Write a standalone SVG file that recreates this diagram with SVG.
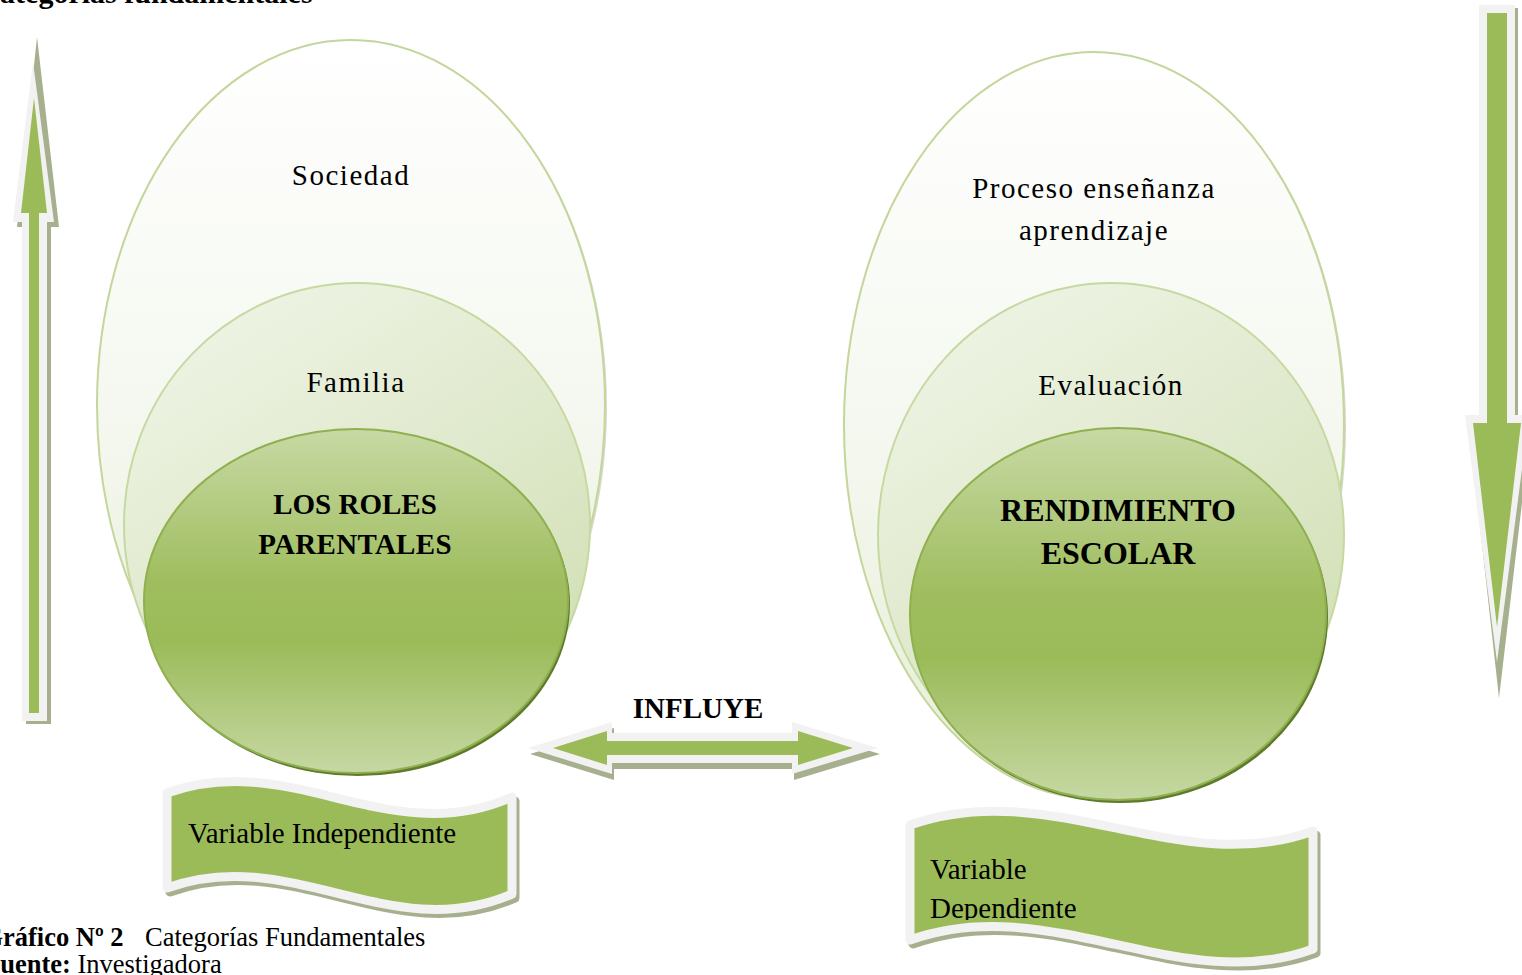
<svg xmlns="http://www.w3.org/2000/svg" width="1522" height="975" viewBox="0 0 1522 975">
<defs>
<style>
.t{font-family:"Liberation Serif","Times New Roman",serif;fill:#000}
.r{font-size:29px;letter-spacing:1.5px}
.b{font-size:29px;font-weight:bold}
.bb{font-size:32px;font-weight:bold}
.cap{font-size:26.5px}
.outersh{fill:#d6dacb}
.outer{fill:url(#gOuter);stroke:#c3d69b;stroke-width:2}
.mid{fill:url(#gMid);stroke:#c6d9a2;stroke-width:2}
.inner{fill:url(#gInner);stroke:#8fb04e;stroke-width:2}
.innersh{fill:#5f7a2c}
.sh{fill:#a7b08e}
.wh{fill:#f2f2f2}
.gr{fill:#9bbb59}
.ban{fill:#9bbb59;stroke:#f2f2f2;stroke-width:9;stroke-linejoin:round}
.bansh{fill:#a7b08e;stroke:#a7b08e;stroke-width:9;stroke-linejoin:round}
</style>
<linearGradient id="gOuter" x1="0" y1="0" x2="0" y2="1">
<stop offset="0" stop-color="#ffffff"/>
<stop offset="0.5" stop-color="#f5f8f0"/>
<stop offset="1" stop-color="#e6eed7"/>
</linearGradient>
<linearGradient id="gMid" x1="0.2" y1="0" x2="0.8" y2="1">
<stop offset="0" stop-color="#eff4e5"/>
<stop offset="0.5" stop-color="#dfe9cc"/>
<stop offset="1" stop-color="#cedeaf"/>
</linearGradient>
<linearGradient id="gInner" x1="0" y1="0" x2="0" y2="1">
<stop offset="0" stop-color="#c7d9a4"/>
<stop offset="0.45" stop-color="#9fbd5e"/>
<stop offset="0.62" stop-color="#9bbb59"/>
<stop offset="1" stop-color="#c6d8a3"/>
</linearGradient>
<clipPath id="clipDep"><rect x="900" y="830" width="420" height="90"/></clipPath>
</defs>
<rect width="1522" height="975" fill="#ffffff"/>

<g id="title">
<text class="t" x="-21.6" y="3" style="font-size:30px;font-weight:bold">Categorías fundamentales</text>
</g>

<g id="left-stack">
<ellipse class="outersh" cx="353" cy="407" rx="254" ry="365"/>
<ellipse class="outer" cx="351" cy="405" rx="254" ry="365"/>
<ellipse class="mid" cx="357" cy="525" rx="233" ry="242"/>
<ellipse class="innersh" cx="358" cy="604" rx="212" ry="172"/>
<ellipse class="inner" cx="356" cy="601" rx="212" ry="172"/>
<text class="t r" x="351" y="185" text-anchor="middle">Sociedad</text>
<text class="t r" x="356" y="392" text-anchor="middle">Familia</text>
<text class="t b" x="355" y="514" text-anchor="middle">LOS ROLES</text>
<text class="t b" x="355" y="554" text-anchor="middle" style="letter-spacing:0.3px">PARENTALES</text>
</g>

<g id="right-stack">
<ellipse class="outersh" cx="1096" cy="427" rx="250" ry="373"/>
<ellipse class="outer" cx="1094" cy="425" rx="250" ry="373"/>
<ellipse class="mid" cx="1111" cy="535" rx="233" ry="252"/>
<ellipse class="innersh" cx="1120" cy="617" rx="208" ry="186"/>
<ellipse class="inner" cx="1118" cy="614" rx="208" ry="186"/>
<text class="t r" x="1094" y="198" text-anchor="middle">Proceso enseñanza</text>
<text class="t r" x="1094" y="240" text-anchor="middle">aprendizaje</text>
<text class="t r" x="1111" y="395" text-anchor="middle">Evaluación</text>
<text class="t bb" x="1118" y="521" text-anchor="middle">RENDIMIENTO</text>
<text class="t bb" x="1118" y="564" text-anchor="middle">ESCOLAR</text>
</g>

<g id="connectors">
<g id="arrow-up">
<polygon class="sh" points="37,37 59,227 51,227 51,724 26,724 26,227 17,227"/>
<polygon class="wh" points="33,62 54,222 47,222 47,721 22,721 22,222 13,222"/>
<polygon class="gr" points="34,98 47,213 39,213 39,713 29,713 29,213 21,213"/>
</g>
<g id="arrow-down">
<polygon class="sh" points="1482,8 1518,8 1518,418 1532,418 1499,698 1468,418 1482,418"/>
<polygon class="wh" points="1479,5 1515,5 1515,415 1529,415 1497,662 1465,415 1479,415"/>
<polygon class="gr" points="1487,13 1507,13 1507,423 1521,423 1497,627 1473,423 1487,423"/>
</g>
<g id="arrow-both">
<polygon class="sh" points="530,754 614,728 614,739 794,739 794,728 880,754 794,780 794,769 614,769 614,780"/>
<polygon class="wh" points="528,748 612,722 612,733 792,733 792,722 878,748 792,774 792,763 612,763 612,774"/>
<polygon class="gr" points="553,748 607,731 607,741 798,741 798,731 853,748 798,765 798,755 607,755 607,765"/>
<text class="t b" x="698" y="718" text-anchor="middle">INFLUYE</text>
</g>
</g>

<g id="banner-independiente">
<path class="bansh" transform="translate(3,4)" d="M167,793 C290,748 390,852 512,797 L512,894 C390,947 290,843 167,888 Z"/>
<path class="ban" d="M167,793 C290,748 390,852 512,797 L512,894 C390,947 290,843 167,888 Z"/>
<text class="t" x="188" y="843" style="font-size:29px">Variable Independiente</text>
</g>

<g id="banner-dependiente">
<path class="bansh" transform="translate(3,4)" d="M910,825 C1050,775 1180,880 1313,831 L1313,949 C1180,998 1050,890 910,940 Z"/>
<path class="ban" d="M910,825 C1050,775 1180,880 1313,831 L1313,949 C1180,998 1050,890 910,940 Z"/>
<g clip-path="url(#clipDep)">
<text class="t" x="930" y="879" style="font-size:29px">Variable</text>
<text class="t" x="930" y="918" style="font-size:29px">Dependiente</text>
</g>
</g>

<g id="caption">
<text class="t cap" x="-17.6" y="946"><tspan font-weight="bold">Gráfico Nº 2</tspan></text>
<text class="t cap" x="145" y="946">Categorías Fundamentales</text>
<text class="t cap" x="-16" y="973"><tspan font-weight="bold">Fuente:</tspan> Investigadora</text>
</g>
</svg>
